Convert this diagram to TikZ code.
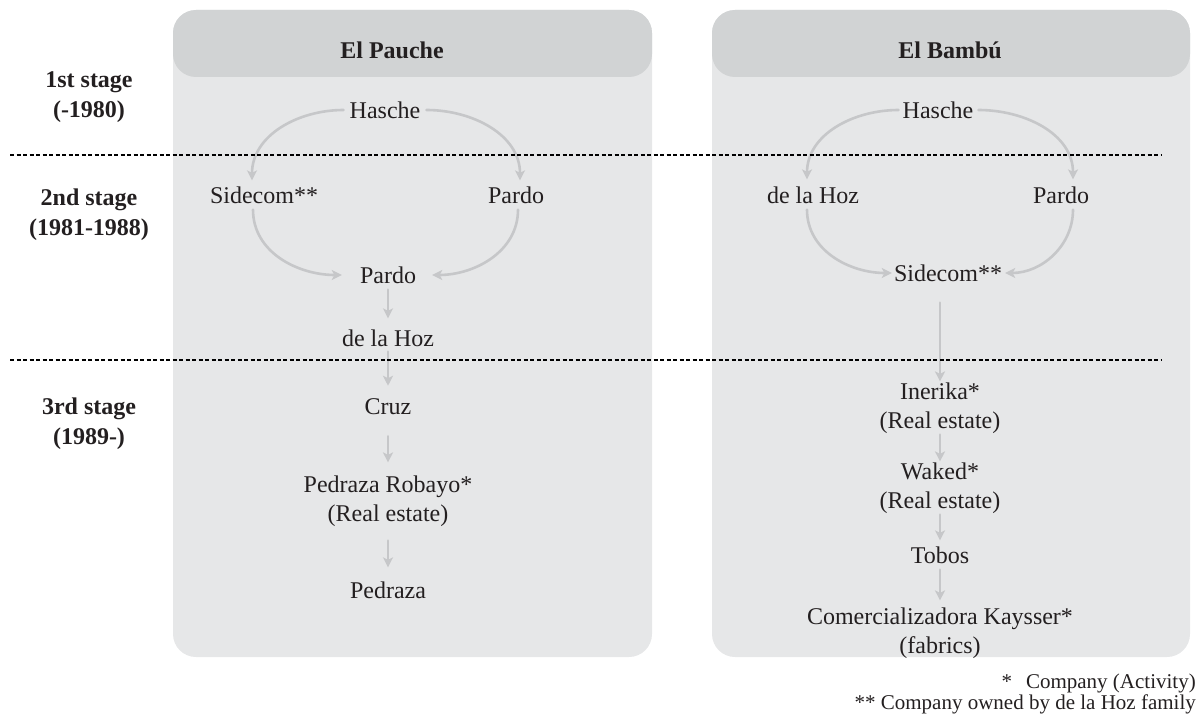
\documentclass[tikz,border=0pt]{standalone}
\usepackage{fontspec}
\setmainfont{Liberation Serif}
\usetikzlibrary{arrows.meta}
\definecolor{panelgray}{HTML}{E6E7E8}
\definecolor{headgray}{HTML}{D1D3D4}
\definecolor{flowgray}{HTML}{C6C7C9}
\definecolor{inkgray}{HTML}{231F20}
\begin{document}
\begin{tikzpicture}[x=1pt, y=1pt, line join=round, line cap=round, >={Stealth[length=10pt,width=10pt,inset=2.5pt]}]
				\tikzset{firm/.style={text=inkgray, align=center, inner sep=1pt, font=\fontsize{24}{29}\selectfont},
					stage/.style={text=inkgray, align=center, inner sep=1pt, font=\fontsize{24}{30}\selectfont\bfseries},
					note/.style={text=inkgray, inner sep=0pt, anchor=east, font=\fontsize{21}{21}\selectfont},
					flow/.style={draw=flowgray, line width=2.6pt, ->},
					era/.style={draw=black, line width=2.2pt, line cap=butt, dash pattern=on 4pt off 2.5pt}}
				\useasboundingbox (0,0) rectangle (1197,-717);
				%Hai khung
				\fill[panelgray, rounded corners=23pt] (173,-10) rectangle (652,-657);
				\fill[headgray, rounded corners=23pt] (173,-10) rectangle (652,-77);
				\fill[panelgray, rounded corners=23pt] (712,-10) rectangle (1190,-657);
				\fill[headgray, rounded corners=23pt] (712,-10) rectangle (1190,-77);
				\node[stage] (hp) at (392,-50) {El Pauche};
				\node[stage] (hb) at (950,-50) {El Bambú};
				%Giai doan
				\node[stage] (s1) at (89,-97) {1st stage\\(-1980)};
				\node[stage] (s2) at (89,-215) {2nd stage\\(1981-1988)};
				\node[stage] (s3) at (89,-424) {3rd stage\\(1989-)};
				%El Pauche
				\node[firm] (p0) at (385,-110) {Hasche};
				\node[firm] (p1) at (264,-195) {Sidecom**};
				\node[firm] (p2) at (516,-195) {Pardo};
				\node[firm] (p3) at (388,-275) {Pardo};
				\node[firm] (p4) at (388,-338) {de la Hoz};
				\node[firm] (p5) at (388,-407) {Cruz};
				\node[firm] (p6) at (388,-501) {Pedraza Robayo*\\(Real estate)};
				\node[firm] (p7) at (388,-590) {Pedraza};
				\draw[flow] ([xshift=-5pt]p0.west) to[out=180,in=90] ([shift={(-12pt,5pt)}]p1.north);
				\draw[flow] ([xshift=5pt]p0.east) to[out=0,in=90] ([shift={(4pt,5pt)}]p2.north);
				\draw[flow] ([shift={(-11pt,-5pt)}]p1.south) to[out=-90,in=180] ([xshift=-17pt]p3.west);
				\draw[flow] ([shift={(2pt,-5pt)}]p2.south) to[out=-90,in=0] ([xshift=15pt]p3.east);
				\draw[flow, shorten <=5pt, shorten >=10pt] (p3) -- (p4);
				\draw[flow, shorten <=4pt, shorten >=12pt] (p4) -- (p5);
				\draw[flow, shorten <=20pt, shorten >=12pt] (p5) -- (p6);
				\draw[flow, shorten <=13pt, shorten >=13pt] (p6) -- (p7);
				%El Bambu
				\node[firm] (b0) at (938,-110) {Hasche};
				\node[firm] (b1) at (813,-195) {de la Hoz};
				\node[firm] (b2) at (1061,-195) {Pardo};
				\node[firm] (b3) at (948,-273) {Sidecom**};
				\node[firm] (b4) at (940,-408) {Inerika*\\(Real estate)};
				\node[firm] (b5) at (940,-488) {Waked*\\(Real estate)};
				\node[firm] (b6) at (940,-555) {Tobos};
				\node[firm] (b7) at (940,-633) {Comercializadora Kaysser*\\(fabrics)};
				\draw[flow] ([xshift=-3pt]b0.west) to[out=180,in=90] ([shift={(-6pt,6pt)}]b1.north);
				\draw[flow] ([xshift=4pt]b0.east) to[out=0,in=90] ([shift={(12pt,6pt)}]b2.north);
				\draw[flow] ([shift={(-6pt,-5pt)}]b1.south) to[out=-90,in=180] ([xshift=-1pt]b3.west);
				\draw[flow] ([shift={(12pt,-5pt)}]b2.south) to[out=-90,in=0] ([xshift=2pt]b3.east);
				\draw[flow, shorten <=20pt] ([xshift=-8pt]b3.south) -- (b4.north);
				\draw[flow] (b4) -- (b5);
				\draw[flow, shorten >=5pt] (b5) -- (b6);
				\draw[flow, shorten <=5pt, shorten >=6pt] (b6) -- (b7);
				%Duong ngan cach
				\coordinate (d1a) at (10,-155); \coordinate (d1b) at (1162,-155);
				\coordinate (d2a) at (10,-360); \coordinate (d2b) at (1162,-360);
				\draw[era] (d1a) -- (d1b);
				\draw[era] (d2a) -- (d2b);
				%Chu thich
				\node[note] (n1) at (1196,-683) {*\hspace{14pt}Company (Activity)};
				\node[note] (n2) at (1196,-704) {** Company owned by de la Hoz family};
\end{tikzpicture}
\end{document}
